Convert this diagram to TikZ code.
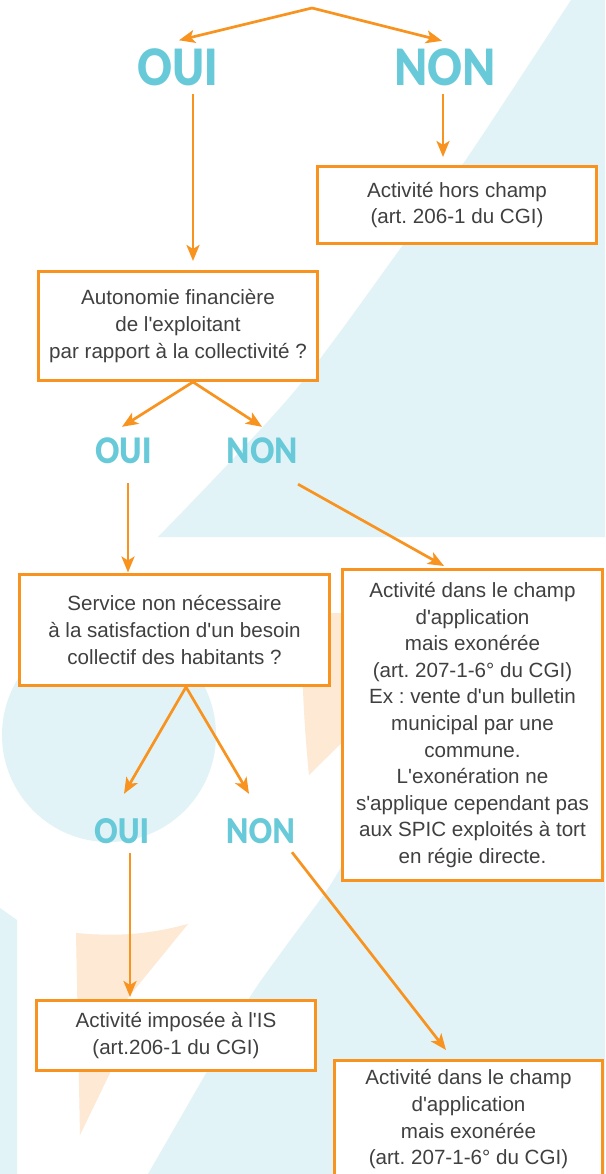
\documentclass[tikz,border=0pt]{standalone}
\usepackage{fontspec}
\setmainfont{Liberation Sans}[Ligatures=TeXOff]
\newfontfamily\ouifont{Lato}[UprightFont={* Black},FakeStretch=0.86]
\usetikzlibrary{arrows.meta,calc}
\definecolor{orng}{HTML}{F7931E}
\definecolor{bluetxt}{HTML}{68CAD9}
\definecolor{bgblue}{HTML}{E1F3F7}
\definecolor{peach}{HTML}{FDE9D4}
\definecolor{txt}{HTML}{404040}
\tikzset{
  box/.style={draw=orng, line width=3pt, fill=white, align=center, inner sep=0pt,
    text=txt, font=\fontsize{20.6}{26.6}\selectfont\frenchspacing},
  lbl/.style={text=bluetxt, inner sep=0pt, text depth=0pt, anchor=center},
  lvlA/.style={lbl, font=\ouifont\fontsize{50}{50}\selectfont, text height=36pt},
  lvlB/.style={lbl, font=\ouifont\fontsize{35}{35}\selectfont, text height=25pt},
  lvlC/.style={lbl, font=\ouifont\fontsize{34}{34}\selectfont, text height=24pt},
  arr/.style={draw=orng, line width=2.7pt, -{Stealth[length=16pt,width=13pt,inset=4pt]}},
}
\begin{document}
\begin{tikzpicture}[x=1pt,y=-1pt]
\useasboundingbox (0,0) rectangle (605,1174);
\clip (0,0) rectangle (605,1174);
\fill[white] (0,0) rectangle (605,1174);
% background shapes
\fill[bgblue] plot[smooth] coordinates {(571,0) (465,161) (403,245) (293,393) (158,537)}
  -- (605,537) -- (605,0) -- cycle;
\fill[bgblue] (109,735) circle[radius=107];
\fill[peach] (290,613) -- (380,613) -- (380,705) -- (309,775)
  .. controls (306,745) and (304,715) .. (303,690) -- (295,640) -- cycle;
\fill[bgblue] (0,908) -- (17,920) -- (17,1174) -- (0,1174) -- cycle;
\fill[peach] (76,933) .. controls (120,937) and (150,934) .. (188,924)
  -- (127,999) -- (110,1073) -- (80,1135) -- cycle;
\fill[bgblue] plot[smooth] coordinates {(345,860) (327,890) (283,950) (250,997) (205,1075) (148,1174)}
  -- (605,1174) -- (605,860) -- cycle;

% labels
\node[lvlA] (oui1) at (177.5,67.5) {OUI};
\node[lvlA] (non1) at (445,67.5) {NON};
\node[lvlB] (oui2) at (123.5,450.5) {OUI};
\node[lvlB] (non2) at (262.5,450.5) {NON};
\node[lvlC] (oui3) at (121.5,831) {OUI};
\node[lvlC] (non3) at (260.5,831) {NON};

% boxes
\node[box, minimum width=279pt, minimum height=77pt] (b1) at (457,205)
  {Activité hors champ\\(art. 206-1 du CGI)};
\node[box, minimum width=279pt, minimum height=109pt] (b2) at (178,326)
  {Autonomie financière\\de l'exploitant\\par rapport à la collectivité ?};
\node[box, minimum width=309.5pt, minimum height=111pt] (b3) at (174.5,630)
  {Service non nécessaire\\à la satisfaction d'un besoin\\collectif des habitants ?};
\node[box, minimum width=260pt, minimum height=311pt] (b4) at (472.5,725)
  {Activité dans le champ\\d'application\\mais exonérée\\(art. 207-1-6° du CGI)\\Ex : vente d'un bulletin\\municipal par une\\commune.\\L'exonération ne\\s'applique cependant pas\\aux SPIC exploités à tort\\en régie directe.};
\node[box, minimum width=268pt, minimum height=140pt, anchor=north] (b6) at (468.5,1059)
  {Activité dans le champ\\d'application\\mais exonérée\\(art. 207-1-6° du CGI)\\\mbox{}};
\node[box, minimum width=279pt, minimum height=70pt] (b5) at (176,1035.5)
  {Activité imposée à l'IS\\(art.206-1 du CGI)};

% connectors
\coordinate (start) at (312,8);
\draw[arr] (start) -- ($(oui1.north)+(1.5,-9)$);
\draw[arr] (start) -- ($(non1.north)+(-3,-8.5)$);
\draw[arr] ($(oui1.south)+(15.5,8.5)$) -- ($(b2.north)+(15,-9)$);
\draw[arr] ($(non1.south)+(-2,8.5)$) -- ($(b1.north)+(-14,-8)$);
\draw[arr] ($(b2.south)+(15,0)$) -- ($(oui2.north)+(-1.5,-11)$);
\draw[arr] ($(b2.south)+(15,0)$) -- ($(non2.north)+(-0.5,-11)$);
\draw[arr] ($(oui2.south)+(4.5,20)$) -- ($(b3.north)+(-46.5,-0.5)$);
\draw[arr] ($(non2.south)+(35.5,21)$) -- ($(b4.north)+(-28.5,-2)$);
\draw[arr] ($(b3.south)+(11.5,0)$) -- ($(oui3.north)+(2.5,-25)$);
\draw[arr] ($(b3.south)+(11.5,0)$) -- ($(non3.north)+(-11.5,-25)$);
\draw[arr] ($(oui3.south)+(8.5,10)$) -- ($(b5.north)+(-46,-2)$);
\draw[arr] ($(non3.south)+(31.5,9)$) -- ($(b6.north)+(-22.5,-9)$);
\end{tikzpicture}
\end{document}
